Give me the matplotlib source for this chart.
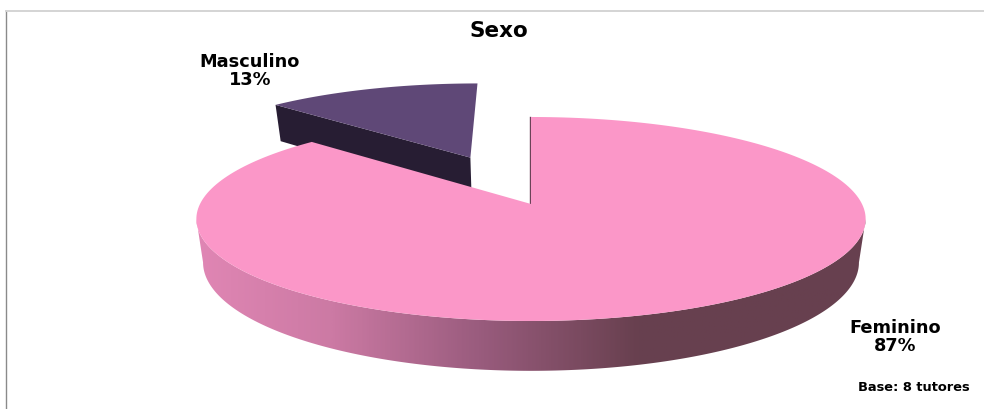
import numpy as np
import matplotlib
matplotlib.use("Agg")
import matplotlib.pyplot as plt
from matplotlib.colors import LinearSegmentedColormap
from matplotlib.patches import Polygon

labels = ["Feminino", "Masculino"]
percents = [87, 13]
title = "Sexo"
note = "Base: 8 tutores"

C_TOP_F = "#fb97c8"
C_TOP_M = "#5f4877"
C_SIDE_M = "#271d33"
C_CUT = "#6b4258"

# pie geometry, in pixels of the image
CX, CY = 531, 205
RX, RY = 331, 99.8
PERSP = 0.147
DEPTH = 42.5
SHRINK = 0.98


def project(u, v, down=False):
    w = 1 + PERSP * v
    x = RX * u / w
    y = CY - RY * v / w
    if down:
        return CX + x * SHRINK, y + DEPTH / w
    return CX + x, y


def arc(a0, a1, off=(0, 0), down=False, r=1.0, n=240):
    t = np.radians(np.linspace(a0, a1, n))
    return project(r * np.sin(t) + off[0], r * np.cos(t) + off[1], down)


def poly(xs, ys, **kw):
    return Polygon(np.column_stack([xs, ys]), closed=True, lw=0, **kw)


fig = plt.figure(figsize=(9.84, 4.10), dpi=100)
ax = fig.add_axes([0, 0, 1, 1])
ax.set_xlim(0, 984)
ax.set_ylim(410, 0)
ax.axis("off")

# frame of the chart area
ax.plot([6, 6], [12, 410], color="#8a8a8a", lw=1.0)
ax.plot([6, 984], [12, 12], color="#d4d4d4", lw=1.4)

sweep = percents[0] / sum(percents) * 360
mid = np.radians(sweep + percents[1] / sum(percents) * 180)
off = (0.50 * np.sin(mid) + 0.002, 0.50 * np.cos(mid) + 0.04)
R_M = 0.97

# exploded slice: Masculino
ax_m, ay_m = arc(sweep, 360, off, r=R_M)
ox, oy = project(off[0], off[1])
bx, by = project(off[0], off[1], True)
dx, dy = arc(sweep, sweep, off, down=True, r=R_M, n=1)
ax.add_patch(poly([ax_m[0], ox, bx, dx[0]], [ay_m[0], oy, by, dy[0]], fc=C_SIDE_M, zorder=2))
ax.add_patch(poly(np.r_[ax_m, ox], np.r_[ay_m, oy], fc=C_TOP_M, zorder=3))

# rim of Feminino, from the widest point on one side to the other, shaded left to right
widest = np.degrees(np.arccos(-PERSP))
tx, ty = arc(widest, 360 - widest)
lowx, lowy = arc(widest, 360 - widest, down=True)
rim = poly(np.r_[tx, lowx[::-1]], np.r_[ty, lowy[::-1]], fc="none", zorder=4)
ax.add_patch(rim)
cmap = LinearSegmentedColormap.from_list(
    "rim",
    [(0.0, "#e086b4"), (0.20, "#cc7aa4"), (0.42, "#9a5c7e"), (0.66, "#68404f"), (1.0, "#67404f")],
)
img = ax.imshow(
    np.linspace(0, 1, 400)[None, :], cmap=cmap, vmin=0, vmax=1,
    extent=(196, 866, 380, 200), aspect="auto", zorder=4,
)
img.set_clip_path(rim)
ax.set_xlim(0, 984)
ax.set_ylim(410, 0)

# Feminino top face
fx, fy = arc(0, sweep)
ax.add_patch(poly(np.r_[fx, CX], np.r_[fy, CY], fc=C_TOP_F, zorder=5))
ax.plot([fx[0] - 1, CX - 1], [fy[0], CY], color=C_CUT, lw=1.0, zorder=4.5)

ax.text(499, 31, title, ha="center", va="center", fontsize=15.5, fontweight="bold", color="black")
ax.text(250, 71, f"{labels[1]}\n{percents[1]}%", ha="center", va="center",
        fontsize=12.8, fontweight="bold", color="black", linespacing=0.95)
ax.text(895, 337, f"{labels[0]}\n{percents[0]}%", ha="center", va="center",
        fontsize=12.8, fontweight="bold", color="black", linespacing=0.95)
ax.text(914, 388, note, ha="center", va="center", fontsize=9.4, fontweight="bold", color="black")

fig.savefig("out.png", dpi=100, facecolor="white")
plt.close(fig)
